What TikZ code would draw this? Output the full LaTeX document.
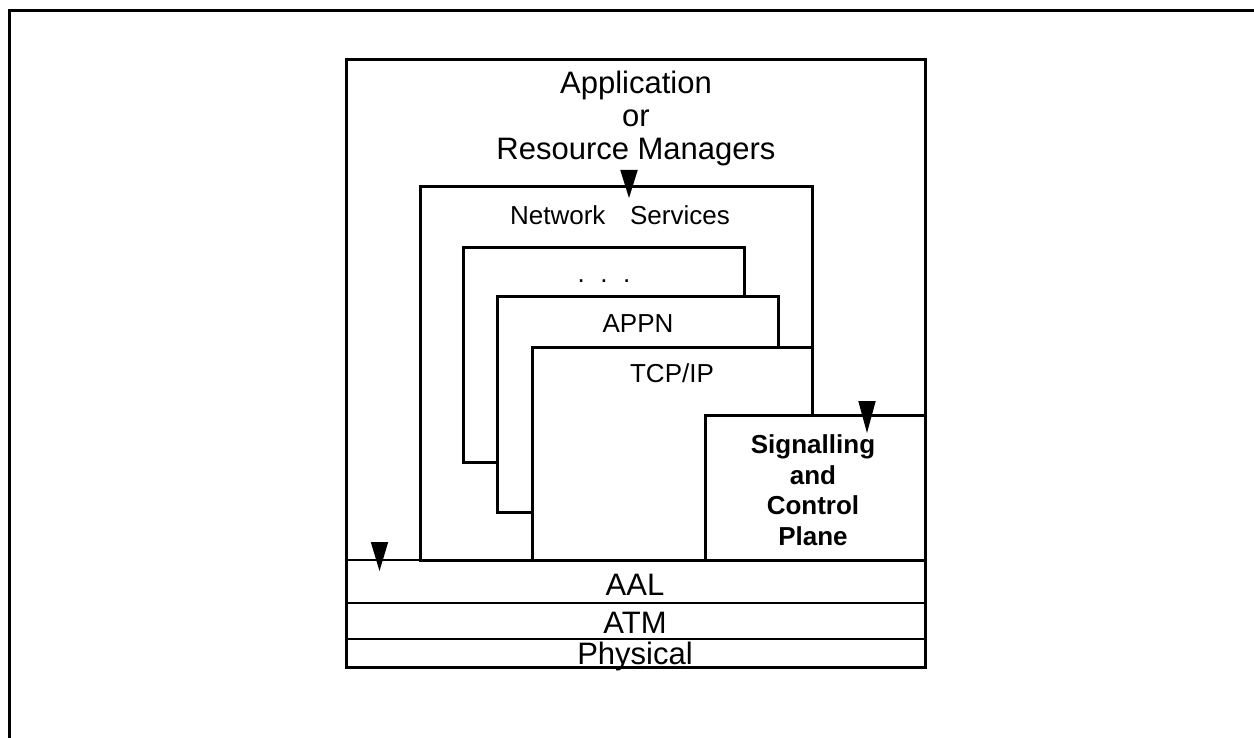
\documentclass[tikz,border=0pt]{standalone}
\usepackage{fontspec}
\setmainfont{Liberation Sans}
\begin{document}
\begin{tikzpicture}[x=1pt,y=-1pt,
  layer/.style={draw,line width=3pt,fill=white},
  rowline/.style={line width=2.6pt},
  frame/.style={draw,line width=3pt},
  big/.style={font=\fontsize{31}{33}\selectfont,inner sep=0pt},
  small/.style={font=\fontsize{26}{31}\selectfont,inner sep=0pt},
  plane/.style={font=\bfseries\fontsize{26}{30.5}\selectfont,inner sep=0pt,align=center},
  tip/.style={fill=black}]
\useasboundingbox (0,0) rectangle (1254,738);
% open outer frame
\draw[frame] (9.5,760) -- (9.5,10.5) -- (1270,10.5);
% protocol stack container
\draw[layer] (346,60) rectangle (925,667);
\draw[rowline] (346,560) -- (925,560);
\draw[rowline] (346,603) -- (925,603);
\draw[rowline] (346,639) -- (925,639);
% (base anchor of a multi-line node sits on its last line)
\node[big,anchor=base,align=center] (apps) at (636,160) {Application\\or\\Resource Managers};
% network services and its stacked protocol cards
\draw[layer] (420,187) rectangle (812,560);
\node[small,anchor=base] (ns) at (620,225) {Network\hspace{0.95em}Services};
\draw[layer] (463,248) rectangle (744,462);
\node[small,anchor=base] (dots) at (604,283) {.\hspace{0.6em}.\hspace{0.6em}.};
\draw[layer] (497,297) rectangle (778,512);
\node[small,anchor=base] (appn) at (638,333) {APPN};
\draw[layer] (532,347) rectangle (812,560);
\node[small,anchor=base] (tcp) at (672,382) {TCP/IP};
\draw[layer] (705,415) rectangle (925,560);
\node[plane,anchor=base] (sig) at (813,545) {Signalling\\and\\Control\\Plane};
% lower layers
\node[big,anchor=base] (aal) at (635,595) {AAL};
\node[big,anchor=base] (atm) at (635,633) {ATM};
\node[big,anchor=base] (phy) at (635,664.5) {Physical};
% interface markers
\coordinate (t1) at (629,198);
\coordinate (t2) at (867,433);
\coordinate (t3) at (379.5,571);
\fill[tip] (t1) -- ++(-8.75,-28) -- ++(17.5,0) -- cycle;
\fill[tip] (t2) -- ++(-8.75,-32) -- ++(17.5,0) -- cycle;
\fill[tip] (t3) -- ++(-8.75,-29) -- ++(17.5,0) -- cycle;
\end{tikzpicture}
\end{document}
